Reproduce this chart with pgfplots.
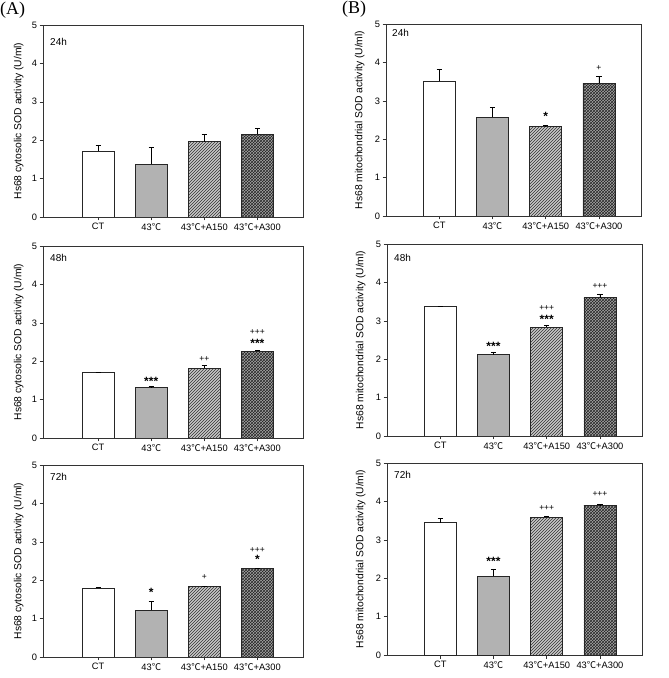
\documentclass[border=0pt]{standalone}
\usepackage{fontspec}
\setmainfont{Liberation Sans}
\newfontfamily\cjk{Noto Sans CJK SC}
\newfontfamily\seriffont{Liberation Serif}
\usepackage{pgfplots}
\pgfplotsset{compat=1.18}
\usetikzlibrary{patterns}
\definecolor{midgray}{RGB}{178,178,178}
\definecolor{hatchgray}{RGB}{200,200,200}
\definecolor{crossgray}{RGB}{165,165,165}
\newcommand{\degC}{{\cjk ℃}}
\pgfplotsset{
  sod/.style={
    scale only axis, height=192pt, anchor=south west,
    ymin=0, ymax=5, ytick={0,1,2,3,4,5},
    xtick={0,1,2,3},
    xticklabels={CT, 43\degC, 43\degC+A150, 43\degC+A300},
    tick align=outside, tick pos=left, major tick length=3.5pt,
    ybar, bar width=0.6, bar shift=0pt,
    axis line style={black!80, line width=0.6pt},
    every tick/.style={black!80, line width=0.5pt},
    ticklabel style={font=\fontsize{9.3}{10}\selectfont},
    /pgf/number format/assume math mode=true,
    ylabel style={font=\fontsize{10.3}{11}\selectfont, anchor=south},
    error bars/y dir=plus, error bars/y explicit,
    error bars/error bar style={black, line width=0.6pt},
    error bars/error mark options={rotate=90, black, line width=0.6pt, mark size=2.6pt},
    xticklabel style={yshift=1pt},
    yticklabel style={xshift=1pt},
  },
  sodA/.style={sod, width=260pt, xmin=-1.04, xmax=3.86,
    ylabel={Hs68 cytosolic SOD activity (U/ml)},
    ylabel style={at={([xshift=-16pt]rel axis cs:0,0.5)}}},
  sodB/.style={sod, width=255pt, xmin=-1.0, xmax=3.79,
    ylabel={Hs68 mitochondrial SOD activity (U/ml)},
    ylabel style={at={([xshift=-18pt]rel axis cs:0,0.5)}}},
  ctbar/.style={fill=white, draw=black!85, line width=0.6pt},
  hbar/.style={fill=midgray, draw=black!85, line width=0.6pt},
  hatch/.style={fill=hatchgray, draw=black!85, line width=0.6pt, postaction={pattern=north east lines, pattern color=black!80}},
  cross/.style={fill=crossgray, draw=black!85, line width=0.6pt, postaction={pattern=crosshatch, pattern color=black!85}},
}
\tikzset{
  star/.style={font=\fontsize{12}{12}\bfseries\selectfont, inner sep=0pt, anchor=center},
  plus/.style={font=\fontsize{8.5}{9}\selectfont, inner sep=0pt, anchor=center},
  tlab/.style={font=\fontsize{10}{11}\selectfont, inner sep=0pt, anchor=west},
}
\begin{document}
\begin{tikzpicture}
\useasboundingbox (0,0) rectangle (669pt,678pt);
\node[font=\seriffont\fontsize{18}{18}\selectfont, inner sep=0pt, anchor=west] at (0pt,668pt) {(A)};
\node[font=\seriffont\fontsize{18}{18}\selectfont, inner sep=0pt, anchor=west] at (342pt,669pt) {(B)};

% A1 24h cytosolic
\begin{axis}[sodA, at={(43pt,461pt)}]
\addplot[ctbar] coordinates {(0,1.72) +- (0,0.155)};
\addplot[hbar] coordinates {(1,1.38) +- (0,0.43)};
\addplot[hatch] coordinates {(2,1.96) +- (0,0.19)};
\addplot[cross] coordinates {(3,2.16) +- (0,0.15)};
\node[tlab] at ([xshift=7pt,yshift=-16.5pt]rel axis cs:0,1) {24h};
\end{axis}

% B1 24h mitochondrial
\begin{axis}[sodB, at={(386pt,462pt)}]
\addplot[ctbar] coordinates {(0,3.51) +- (0,0.32)};
\addplot[hbar] coordinates {(1,2.57) +- (0,0.25)};
\addplot[hatch] coordinates {(2,2.33) +- (0,0.03)};
\addplot[cross] coordinates {(3,3.46) +- (0,0.18)};
\node[tlab] at ([xshift=6pt,yshift=-9pt]rel axis cs:0,1) {24h};
\node[star] at (axis cs:2,2.60) {*};
\node[plus] at (axis cs:3,3.85) {+};
\end{axis}

% A2 48h cytosolic
\begin{axis}[sodA, at={(43pt,240pt)}]
\addplot[ctbar] coordinates {(0,1.71) +- (0,0)};
\addplot[hbar] coordinates {(1,1.32) +- (0,0.02)};
\addplot[hatch] coordinates {(2,1.82) +- (0,0.08)};
\addplot[cross] coordinates {(3,2.26) +- (0,0.03)};
\node[tlab] at ([xshift=7pt,yshift=-12pt]rel axis cs:0,1) {48h};
\node[star] at (axis cs:1,1.48) {***};
\node[plus] at (axis cs:2,2.06) {++};
\node[star] at (axis cs:3,2.46) {***};
\node[plus] at (axis cs:3,2.76) {+++};
\end{axis}

% B2 48h mitochondrial
\begin{axis}[sodB, at={(387pt,242pt)}]
\addplot[ctbar] coordinates {(0,3.37) +- (0,0)};
\addplot[hbar] coordinates {(1,2.12) +- (0,0.07)};
\addplot[hatch] coordinates {(2,2.83) +- (0,0.06)};
\addplot[cross] coordinates {(3,3.60) +- (0,0.10)};
\node[tlab] at ([xshift=7pt,yshift=-14pt]rel axis cs:0,1) {48h};
\node[star] at (axis cs:1,2.34) {***};
\node[star] at (axis cs:2,3.03) {***};
\node[plus] at (axis cs:2,3.33) {+++};
\node[plus] at (axis cs:3,3.91) {+++};
\end{axis}

% A3 72h cytosolic
\begin{axis}[sodA, at={(43pt,21pt)}]
\addplot[ctbar] coordinates {(0,1.80) +- (0,0.01)};
\addplot[hbar] coordinates {(1,1.22) +- (0,0.22)};
\addplot[hatch] coordinates {(2,1.84) +- (0,0)};
\addplot[cross] coordinates {(3,2.30) +- (0,0.01)};
\node[tlab] at ([xshift=7pt,yshift=-12pt]rel axis cs:0,1) {72h};
\node[star] at (axis cs:1,1.68) {*};
\node[plus] at (axis cs:2,2.08) {+};
\node[star] at (axis cs:3,2.54) {*};
\node[plus] at (axis cs:3,2.79) {+++};
\end{axis}

% B3 72h mitochondrial
\begin{axis}[sodB, at={(387pt,23pt)}]
\addplot[ctbar] coordinates {(0,3.45) +- (0,0.11)};
\addplot[hbar] coordinates {(1,2.05) +- (0,0.19)};
\addplot[hatch] coordinates {(2,3.59) +- (0,0.02)};
\addplot[cross] coordinates {(3,3.89) +- (0,0.03)};
\node[tlab] at ([xshift=7pt,yshift=-12pt]rel axis cs:0,1) {72h};
\node[star] at (axis cs:1,2.45) {***};
\node[plus] at (axis cs:2,3.84) {+++};
\node[plus] at (axis cs:3,4.18) {+++};
\end{axis}
\end{tikzpicture}
\end{document}
